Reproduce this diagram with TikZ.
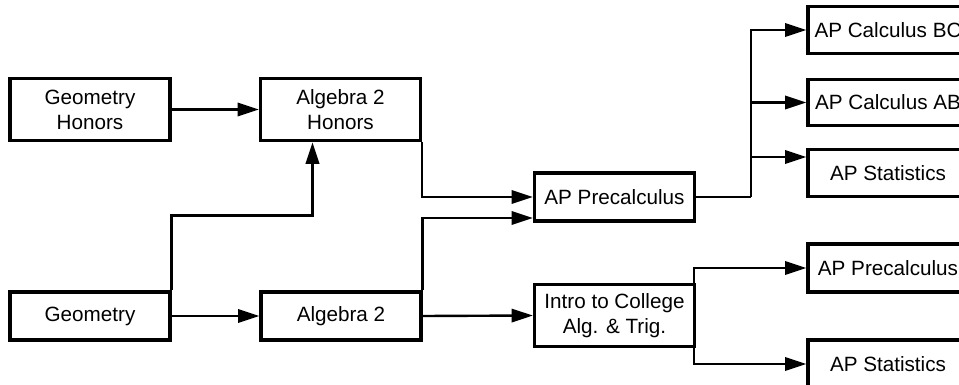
\documentclass[tikz,border=0pt]{standalone}
\usepackage{fontspec}
\setmainfont{Liberation Sans}
\usetikzlibrary{arrows.meta,calc}

\begin{document}
\begin{tikzpicture}[x=0.75pt,y=0.75pt,yscale=-1,xscale=1,
  box/.style={draw,line width=2.4pt,minimum width=120pt,inner sep=0pt,align=center,font=\fontsize{15.5}{18.75}\selectfont},
  flow/.style={line width=1.8pt,-{Triangle[length=16pt,width=10pt]}},
  trunk/.style={line width=1.8pt}]
\path[use as bounding box,clip] (0,0) rectangle (959,385);

% Text Node
\node[box,minimum height=47pt] (gh) at (90,109.5) {Geometry\\Honors};
\node[box,minimum height=47pt] (a2h) at (340.5,109.5) {Algebra 2\\Honors};
\node[box,minimum height=36pt] (geo) at (90,316) {Geometry};
\node[box,minimum height=36pt] (a2) at (341,316) {Algebra 2};
\node[box,minimum height=36pt] (app) at (614.5,197) {AP Precalculus};
\node[box,minimum height=47pt] (icat) at (614.5,315.5) {Intro to College\\Alg. \& Trig.};
% Text Node
\node[box,minimum height=35pt] (bc) at (888,30) {AP Calculus BC};
\node[box,minimum height=35pt] (ab) at (888,102.5) {AP Calculus AB};
\node[box,minimum height=35pt] (st1) at (888,173) {AP Statistics};
\node[box,minimum height=36pt] (app2) at (888,268) {AP Precalculus};
\node[box,minimum height=36pt] (st2) at (888,364) {AP Statistics};

\coordinate (fk) at (751,197);
\coordinate (fk2) at ($(icat.east)+(-2,0)$);
\coordinate (st1in) at ($(st1.west)+(0,-16)$);

% Connection
\draw[flow] (gh.east) -- (a2h.west);
\draw[flow] (geo.east) -- (a2.west);
\draw[flow] (a2.east) -- (icat.west);
\draw[flow] (geo.north east) -- ++(0,-75) -| ($(a2h.south)+(-28,0)$);
\draw[flow] (a2h.south east) |- (app.west);
\draw[flow] (a2.north east) |- ($(app.west)+(0,21)$);
% Connection
\draw[trunk] (app.east) -- (fk);
\draw[flow] (fk) |- (bc.west);
\draw[flow] (fk |- ab.west) -- (ab.west);
\draw[flow] (fk |- st1in) -- (st1in);
% Connection
\draw[flow] (fk2) |- (app2.west);
\draw[flow] (fk2) |- (st2.west);

\end{tikzpicture}
\end{document}
